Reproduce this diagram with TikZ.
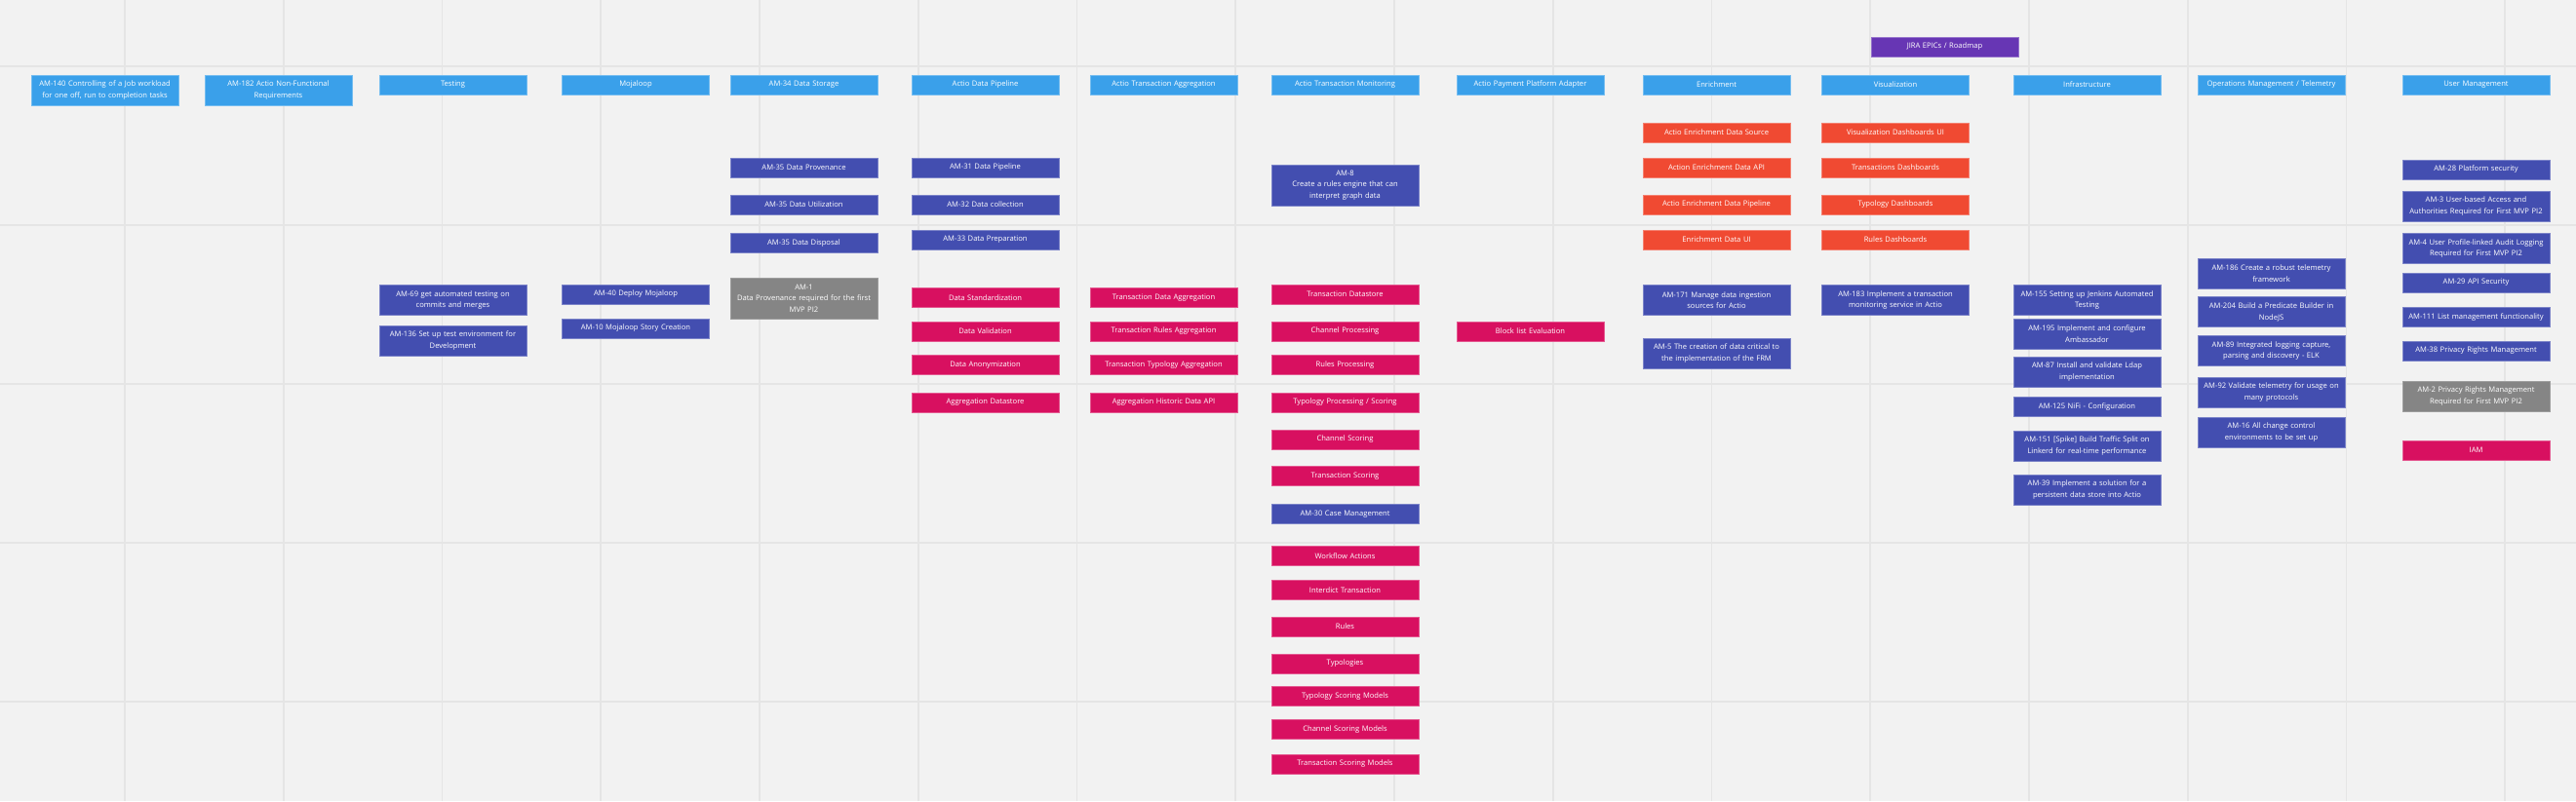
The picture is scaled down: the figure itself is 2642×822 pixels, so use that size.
\documentclass[tikz,border=0pt]{standalone}
\usepackage{fontspec}
\setmainfont{Open Sans}
\usepackage{tikz}
\usepackage{xcolor}
\definecolor{bgcolor}{RGB}{242,242,242}
\definecolor{gridcolor}{RGB}{229,229,229}
\definecolor{hdrcolor}{RGB}{58,160,234}
\definecolor{epiccolor}{RGB}{67,78,176}
\definecolor{featcolor}{RGB}{216,16,96}
\definecolor{uicolor}{RGB}{240,74,50}
\definecolor{heldcolor}{RGB}{133,133,133}
\definecolor{roadcolor}{RGB}{103,54,180}
\tikzset{
  card/.style  = {rectangle, text=white, font=\fontsize{7.6}{11.7}\selectfont,
                  text width=149pt, align=center, minimum width=151pt,
                  minimum height=20pt, inner xsep=1pt, inner ysep=1pt, line width=0.8pt},
  hdr/.style   = {card, fill=hdrcolor, draw=hdrcolor!70!white},
  epic/.style  = {card, fill=epiccolor, draw=epiccolor!70!white},
  feat/.style  = {card, fill=featcolor, draw=featcolor!70!white},
  ui/.style    = {card, fill=uicolor, draw=uicolor!70!white},
  held/.style  = {card, fill=heldcolor, draw=heldcolor!80!white},
  road/.style  = {card, fill=roadcolor, draw=roadcolor!70!white},
  two/.style   = {minimum height=31pt},
  three/.style = {minimum height=42pt},
  gridline/.style = {draw=gridcolor, line width=1.6pt},
}

\begin{document}
\begin{tikzpicture}[x=1pt, y=-1pt]
  % board background and grid
  \fill[bgcolor] (0,0) rectangle (2642,822);
  \useasboundingbox (0,0) rectangle (2642,822);
  \foreach \k in {0,...,15} {
    \draw[gridline] ({128+\k*162.75},0) -- ({128+\k*162.75},822);
  }
  \foreach \k in {0,...,4} {
    \draw[gridline] (0,{68+\k*163}) -- (2642,{68+\k*163});
  }
  \node[road] (roadmap) at (1994.5,48) {JIRA EPICs / Roadmap};
  % non-functional headers
  \node[hdr, two] (am140) at (107.5,92.5) {AM-140 Controlling of a Job workload\\for one off, run to completion tasks};
  \node[hdr, two] (am182) at (285.5,92.5) {AM-182 Actio Non-Functional\\Requirements};
  % testing
  \node[hdr] (testing) at (464.5,87) {Testing};
  \node[epic, two] (am69) at (464.5,308) {AM-69 get automated testing on\\commits and merges};
  \node[epic, two] (am136) at (464.5,349.5) {AM-136 Set up test environment for\\Development};
  % mojaloop
  \node[hdr] (mojaloop) at (652,87) {Mojaloop};
  \node[epic] (am40) at (652,302) {AM-40 Deploy Mojaloop};
  \node[epic] (am10) at (652,337) {AM-10 Mojaloop Story Creation};
  % data storage
  \node[hdr] (am34) at (824.5,87) {AM-34 Data Storage};
  \node[epic] (am35a) at (824.5,172) {AM-35 Data Provenance};
  \node[epic] (am35b) at (824.5,210) {AM-35 Data Utilization};
  \node[epic] (am35c) at (824.5,249.5) {AM-35 Data Disposal};
  \node[held, three] (am1) at (824.5,306) {AM-1\\Data Provenance required for the first\\MVP PI2};
  % data pipeline
  \node[hdr] (pipeline) at (1010.5,87) {Actio Data Pipeline};
  \node[epic] (am31) at (1010.5,172) {AM-31 Data Pipeline};
  \node[epic] (am32) at (1010.5,210) {AM-32 Data collection};
  \node[epic] (am33) at (1010.5,246) {AM-33 Data Preparation};
  \node[feat] (standard) at (1010.5,305.5) {Data Standardization};
  \node[feat] (validation) at (1010.5,340) {Data Validation};
  \node[feat] (anonym) at (1010.5,374.5) {Data Anonymization};
  \node[feat] (aggstore) at (1010.5,413) {Aggregation Datastore};
  % transaction aggregation
  \node[hdr] (aggregation) at (1193.5,87) {Actio Transaction Aggregation};
  \node[feat] (txagg) at (1193.5,305.5) {Transaction Data Aggregation};
  \node[feat] (rulesagg) at (1193.5,340) {Transaction Rules Aggregation};
  \node[feat] (typagg) at (1193.5,374.5) {Transaction Typology Aggregation};
  \node[feat] (histapi) at (1193.5,413) {Aggregation Historic Data API};
  % transaction monitoring
  \node[hdr] (monitoring) at (1379.5,87) {Actio Transaction Monitoring};
  \node[epic, three] (am8) at (1379.5,190) {AM-8\\Create a rules engine that can\\interpret graph data};
  \node[feat] (txstore) at (1379.5,302) {Transaction Datastore};
  \node[feat] (chanproc) at (1379.5,340) {Channel Processing};
  \node[feat] (rulesproc) at (1379.5,374.5) {Rules Processing};
  \node[feat] (typproc) at (1379.5,413) {Typology Processing / Scoring};
  \node[feat] (chanscore) at (1379.5,451) {Channel Scoring};
  \node[feat] (txscore) at (1379.5,488.5) {Transaction Scoring};
  \node[epic] (am30) at (1379.5,527.5) {AM-30 Case Management};
  \node[feat] (workflow) at (1379.5,570.5) {Workflow Actions};
  \node[feat] (interdict) at (1379.5,605.5) {Interdict Transaction};
  \node[feat] (rules) at (1379.5,643) {Rules};
  \node[feat] (typologies) at (1379.5,681) {Typologies};
  \node[feat] (typmodels) at (1379.5,714.5) {Typology Scoring Models};
  \node[feat] (chanmodels) at (1379.5,748.5) {Channel Scoring Models};
  \node[feat] (txmodels) at (1379.5,784) {Transaction Scoring Models};
  % payment platform adapter
  \node[hdr] (adapter) at (1569.5,87) {Actio Payment Platform Adapter};
  \node[feat] (blocklist) at (1569.5,340) {Block list Evaluation};
  % enrichment
  \node[hdr] (enrichment) at (1760.5,87) {Enrichment};
  \node[ui] (ensource) at (1760.5,136) {Actio Enrichment Data Source};
  \node[ui] (enapi) at (1760.5,172) {Action Enrichment Data API};
  \node[ui] (enpipe) at (1760.5,210) {Actio Enrichment Data Pipeline};
  \node[ui] (enui) at (1760.5,246) {Enrichment Data UI};
  \node[epic, two] (am171) at (1760.5,308) {AM-171 Manage data ingestion\\sources for Actio};
  \node[epic, two] (am5) at (1760.5,362.5) {AM-5 The creation of data critical to\\the implementation of the FRM};
  % visualization
  \node[hdr] (visual) at (1944,87) {Visualization};
  \node[ui] (vizui) at (1944,136) {Visualization Dashboards UI};
  \node[ui] (txdash) at (1944,172) {Transactions Dashboards};
  \node[ui] (typdash) at (1944,210) {Typology Dashboards};
  \node[ui] (rulesdash) at (1944,246) {Rules Dashboards};
  \node[epic, two] (am183) at (1944,308) {AM-183 Implement a transaction\\monitoring service in Actio};
  % infrastructure
  \node[hdr] (infra) at (2140.5,87) {Infrastructure};
  \node[epic, two] (am155) at (2140.5,308) {AM-155 Setting up Jenkins Automated\\Testing};
  \node[epic, two] (am195) at (2140.5,342.5) {AM-195 Implement and configure\\Ambassador};
  \node[epic, two] (am87) at (2140.5,381.5) {AM-87 Install and validate Ldap\\implementation};
  \node[epic] (am125) at (2140.5,417.5) {AM-125 NiFi - Configuration};
  \node[epic, two] (am151) at (2140.5,457.5) {AM-151 [Spike] Build Traffic Split on\\Linkerd for real-time performance};
  \node[epic, two] (am39) at (2140.5,502.5) {AM-39 Implement a solution for a\\persistent data store into Actio};
  % operations / telemetry
  \node[hdr] (ops) at (2329.5,87) {Operations Management / Telemetry};
  \node[epic, two] (am186) at (2329.5,280.5) {AM-186 Create a robust telemetry\\framework};
  \node[epic, two] (am204) at (2329.5,320) {AM-204 Build a Predicate Builder in\\NodeJS};
  \node[epic, two] (am89) at (2329.5,360) {AM-89 Integrated logging capture,\\parsing and discovery - ELK};
  \node[epic, two] (am92) at (2329.5,402.5) {AM-92 Validate telemetry for usage on\\many protocols};
  \node[epic, two] (am16) at (2329.5,443.5) {AM-16 All change control\\environments to be set up};
  % user management
  \node[hdr] (users) at (2539.5,87) {User Management};
  \node[epic] (am28) at (2539.5,174) {AM-28 Platform security};
  \node[epic, two] (am3) at (2539.5,211.5) {AM-3 User-based Access and\\Authorities Required for First MVP PI2};
  \node[epic, two] (am4) at (2539.5,255) {AM-4 User Profile-linked Audit Logging\\Required for First MVP PI2};
  \node[epic] (am29) at (2539.5,290) {AM-29 API Security};
  \node[epic] (am111) at (2539.5,325.5) {AM-111 List management functionality};
  \node[epic] (am38) at (2539.5,360) {AM-38 Privacy Rights Management};
  \node[held, two] (am2) at (2539.5,406.5) {AM-2 Privacy Rights Management\\Required for First MVP PI2};
  \node[feat] (iam) at (2539.5,462) {IAM};
\end{tikzpicture}
\end{document}
